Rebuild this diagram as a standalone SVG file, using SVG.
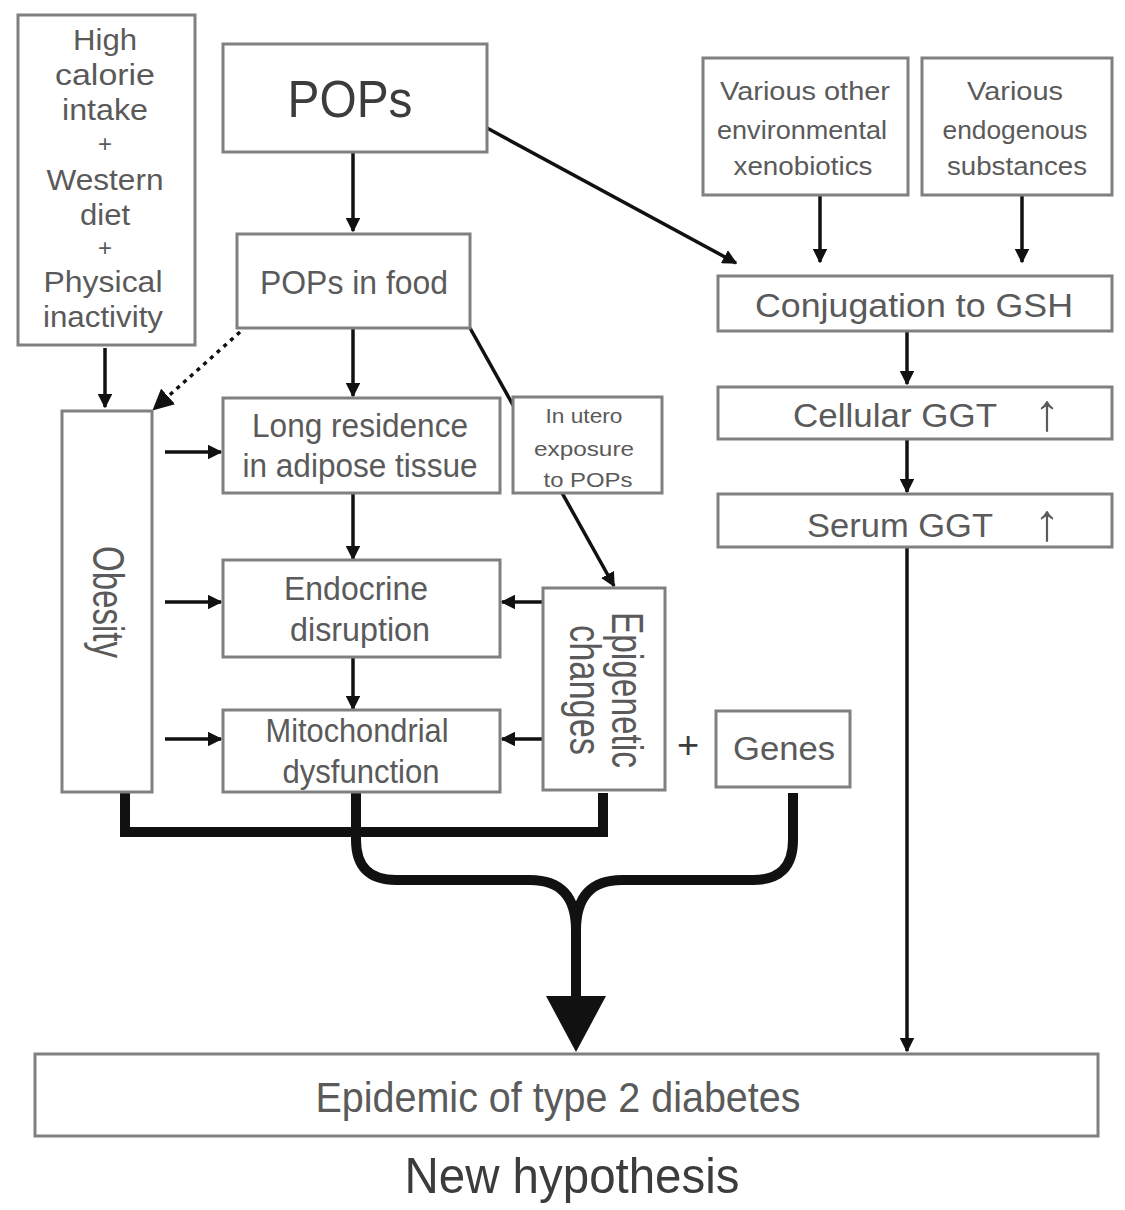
<svg xmlns="http://www.w3.org/2000/svg" width="1125" height="1210" viewBox="0 0 1125 1210">
  <style>
    .box { fill: #ffffff; stroke: #808080; stroke-width: 3; }
    .t { font-family: "Liberation Sans", Arial, sans-serif; fill: #5a5a5a; text-anchor: middle; }
    .dark { fill: #3c3c3c; }
    .arr { fill: none; stroke: #111; stroke-width: 3.5; }
    .thick { fill: none; stroke: #111; stroke-width: 10; }
  </style>
  <defs>
    <marker id="ah" viewBox="0 0 10 10" refX="9" refY="5" markerWidth="4.2" markerHeight="4.2" orient="auto" markerUnits="strokeWidth">
      <path d="M0,0 L10,5 L0,10 z" fill="#111"/>
    </marker>
    <marker id="ahs" viewBox="0 0 10 10" refX="9" refY="5" markerWidth="6" markerHeight="6" orient="auto" markerUnits="strokeWidth">
      <path d="M0,0 L10,5 L0,10 z" fill="#111"/>
    </marker>
  </defs>
  <rect width="1125" height="1210" fill="#ffffff"/>

  <!-- connectors -->
  <g id="connectors">
    <line class="arr" x1="105" y1="348" x2="105" y2="407" marker-end="url(#ah)"/>
    <line class="arr" x1="353" y1="152" x2="353" y2="231" marker-end="url(#ah)"/>
    <line class="arr" x1="240" y1="332" x2="154" y2="409" stroke-dasharray="4 5" stroke-width="4" marker-end="url(#ahs)"/>
    <line class="arr" x1="353" y1="328" x2="353" y2="396" marker-end="url(#ah)"/>
    <line class="arr" x1="470" y1="328" x2="614" y2="586" marker-end="url(#ah)"/>
    <line class="arr" x1="353" y1="493" x2="353" y2="559" marker-end="url(#ah)"/>
    <line class="arr" x1="353" y1="657" x2="353" y2="709" marker-end="url(#ah)"/>
    <line class="arr" x1="165" y1="452" x2="221" y2="452" marker-end="url(#ah)"/>
    <line class="arr" x1="165" y1="602" x2="221" y2="602" marker-end="url(#ah)"/>
    <line class="arr" x1="165" y1="739" x2="221" y2="739" marker-end="url(#ah)"/>
    <line class="arr" x1="543" y1="602" x2="502" y2="602" marker-end="url(#ah)"/>
    <line class="arr" x1="543" y1="739" x2="502" y2="739" marker-end="url(#ah)"/>
    <line class="arr" x1="487" y1="128" x2="736" y2="263" marker-end="url(#ah)"/>
    <line class="arr" x1="820" y1="195" x2="820" y2="262" marker-end="url(#ah)"/>
    <line class="arr" x1="1022" y1="195" x2="1022" y2="262" marker-end="url(#ah)"/>
    <line class="arr" x1="907" y1="332" x2="907" y2="384" marker-end="url(#ah)"/>
    <line class="arr" x1="907" y1="440" x2="907" y2="492" marker-end="url(#ah)"/>
    <line class="arr" x1="907" y1="547" x2="907" y2="1051" marker-end="url(#ah)"/>
    <!-- converging bold paths -->
    <path class="thick" d="M125,793 V832 H603 V793"/>
    <path class="thick" d="M356,793 V840 Q356,880 396,880 H530 Q576,880 576,930 V1000"/>
    <path class="thick" d="M793,793 V840 Q793,880 753,880 H622 Q576,880 576,930"/>
    <polygon points="546,996 606,996 576,1052" fill="#111"/>
  </g>

  <g id="lifestyle">
    <rect class="box" x="18" y="15" width="177" height="330"/>
    <text class="t" font-size="29" x="105" y="50" textLength="64" lengthAdjust="spacingAndGlyphs">High</text>
    <text class="t" font-size="29" x="105" y="85" textLength="100" lengthAdjust="spacingAndGlyphs">calorie</text>
    <text class="t" font-size="29" x="105" y="120" textLength="86" lengthAdjust="spacingAndGlyphs">intake</text>
    <text class="t" font-size="24" x="105" y="152">+</text>
    <text class="t" font-size="29" x="105" y="190" textLength="117" lengthAdjust="spacingAndGlyphs">Western</text>
    <text class="t" font-size="29" x="105" y="225" textLength="50" lengthAdjust="spacingAndGlyphs">diet</text>
    <text class="t" font-size="24" x="105" y="256">+</text>
    <text class="t" font-size="29" x="103" y="292" textLength="119" lengthAdjust="spacingAndGlyphs">Physical</text>
    <text class="t" font-size="29" x="103" y="327" textLength="120" lengthAdjust="spacingAndGlyphs">inactivity</text>
  </g>

  <g id="pops">
    <rect class="box" x="223" y="44" width="264" height="108"/>
    <text class="t dark" font-size="52" x="350" y="117" textLength="125" lengthAdjust="spacingAndGlyphs">POPs</text>
  </g>

  <g id="pops-food">
    <rect class="box" x="237" y="234" width="233" height="94"/>
    <text class="t" font-size="33" x="354" y="294" textLength="188" lengthAdjust="spacingAndGlyphs">POPs in food</text>
  </g>

  <g id="obesity">
    <rect class="box" x="62" y="411" width="90" height="381"/>
    <text class="t" font-size="44" transform="translate(93,602) rotate(90)" x="0" y="0" textLength="112" lengthAdjust="spacingAndGlyphs">Obesity</text>
  </g>

  <g id="adipose">
    <rect class="box" x="223" y="398" width="277" height="95"/>
    <text class="t" font-size="33" x="360" y="437" textLength="216" lengthAdjust="spacingAndGlyphs">Long residence</text>
    <text class="t" font-size="33" x="360" y="477" textLength="235" lengthAdjust="spacingAndGlyphs">in adipose tissue</text>
  </g>

  <g id="in-utero">
    <rect class="box" x="513" y="397" width="149" height="96"/>
    <text class="t" font-size="21" x="584" y="423" textLength="77" lengthAdjust="spacingAndGlyphs">In utero</text>
    <text class="t" font-size="21" x="584" y="456" textLength="100" lengthAdjust="spacingAndGlyphs">exposure</text>
    <text class="t" font-size="21" x="588" y="487" textLength="89" lengthAdjust="spacingAndGlyphs">to POPs</text>
  </g>

  <g id="endocrine">
    <rect class="box" x="223" y="560" width="277" height="97"/>
    <text class="t" font-size="34" x="356" y="600" textLength="144" lengthAdjust="spacingAndGlyphs">Endocrine</text>
    <text class="t" font-size="34" x="360" y="641" textLength="140" lengthAdjust="spacingAndGlyphs">disruption</text>
  </g>

  <g id="mitochondrial">
    <rect class="box" x="223" y="710" width="277" height="82"/>
    <text class="t" font-size="34" x="357" y="742" textLength="183" lengthAdjust="spacingAndGlyphs">Mitochondrial</text>
    <text class="t" font-size="34" x="361" y="783" textLength="157" lengthAdjust="spacingAndGlyphs">dysfunction</text>
  </g>

  <g id="epigenetic">
    <rect class="box" x="543" y="588" width="122" height="202"/>
    <text class="t" font-size="44" transform="translate(612,690) rotate(90)" x="0" y="0" textLength="156" lengthAdjust="spacingAndGlyphs">Epigenetic</text>
    <text class="t" font-size="44" transform="translate(570,690) rotate(90)" x="0" y="0" textLength="130" lengthAdjust="spacingAndGlyphs">changes</text>
  </g>

  <g id="plus">
    <text class="t dark" font-size="38" x="688" y="758">+</text>
  </g>

  <g id="genes">
    <rect class="box" x="716" y="711" width="134" height="76"/>
    <text class="t" font-size="34" x="784" y="760" textLength="102" lengthAdjust="spacingAndGlyphs">Genes</text>
  </g>

  <g id="xenobiotics">
    <rect class="box" x="703" y="58" width="205" height="137"/>
    <text class="t" font-size="26" x="805" y="100" textLength="170" lengthAdjust="spacingAndGlyphs">Various other</text>
    <text class="t" font-size="26" x="802" y="139" textLength="170" lengthAdjust="spacingAndGlyphs">environmental</text>
    <text class="t" font-size="26" x="803" y="175" textLength="139" lengthAdjust="spacingAndGlyphs">xenobiotics</text>
  </g>

  <g id="endogenous">
    <rect class="box" x="922" y="58" width="190" height="137"/>
    <text class="t" font-size="26" x="1015" y="100" textLength="96" lengthAdjust="spacingAndGlyphs">Various</text>
    <text class="t" font-size="26" x="1015" y="139" textLength="145" lengthAdjust="spacingAndGlyphs">endogenous</text>
    <text class="t" font-size="26" x="1017" y="175" textLength="140" lengthAdjust="spacingAndGlyphs">substances</text>
  </g>

  <g id="conjugation">
    <rect class="box" x="718" y="276" width="394" height="55"/>
    <text class="t" font-size="34" x="914" y="317" textLength="318" lengthAdjust="spacingAndGlyphs">Conjugation to GSH</text>
  </g>

  <g id="cellular-ggt">
    <rect class="box" x="718" y="387" width="394" height="52"/>
    <text class="t" font-size="34" x="895" y="427" textLength="204" lengthAdjust="spacingAndGlyphs">Cellular GGT</text>
    <text class="t" font-size="52" x="1047" y="430">↑</text>
  </g>

  <g id="serum-ggt">
    <rect class="box" x="718" y="494" width="394" height="53"/>
    <text class="t" font-size="34" x="900" y="537" textLength="186" lengthAdjust="spacingAndGlyphs">Serum GGT</text>
    <text class="t" font-size="52" x="1047" y="540">↑</text>
  </g>

  <g id="diabetes">
    <rect class="box" x="35" y="1054" width="1063" height="82" stroke-width="3.5"/>
    <text class="t" font-size="42" x="558" y="1112" textLength="485" lengthAdjust="spacingAndGlyphs">Epidemic of type 2 diabetes</text>
  </g>

  <g id="caption">
    <text class="t dark" font-size="50" x="572" y="1193" textLength="335" lengthAdjust="spacingAndGlyphs">New hypothesis</text>
  </g>
</svg>
